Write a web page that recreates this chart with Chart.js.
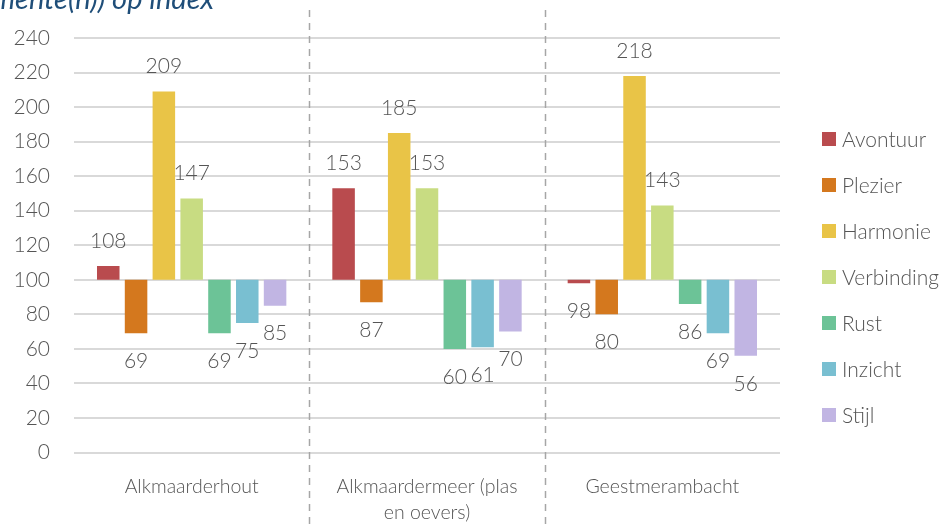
<!DOCTYPE html>
<html>
<head>
<meta charset="utf-8">
<script src="https://cdn.jsdelivr.net/npm/chart.js@4/dist/chart.umd.min.js"></script>
<style>
  html, body { margin: 0; padding: 0; background: #fff; }
  #wrap { width: 950px; height: 526px; position: relative; }
</style>
</head>
<body>
<div id="wrap"><canvas id="myChart"></canvas></div>
<script>
const categories = ['Alkmaarderhout', ['Alkmaardermeer (plas', 'en oevers)'], 'Geestmerambacht'];
const seriesNames = ['Avontuur', 'Plezier', 'Harmonie', 'Verbinding', 'Rust', 'Inzicht', 'Stijl'];
const seriesColors = ['#b94b4e', '#d4781e', '#e9c447', '#c8dc82', '#6cc397', '#79bfd1', '#c1b5e3'];

const avontuur = [108, 153, 98];
const plezier = [69, 87, 80];
const harmonie = [209, 185, 218];
const verbinding = [147, 153, 143];
const rust = [69, 60, 86];
const inzicht = [75, 61, 69];
const stijl = [85, 70, 56];

const baseline = 100;
const yTicks = [0, 20, 40, 60, 80, 100, 120, 140, 160, 180, 200, 220, 240];

const FONT = 'Lato, "Source Sans Pro", sans-serif';
const TEXT = '#555555';

const seriesValues = [avontuur, plezier, harmonie, verbinding, rust, inzicht, stijl];

const datasets = seriesValues.map((vals, i) => ({
  label: seriesNames[i],
  data: vals.map(v => [baseline, v]),
  raw: vals,
  backgroundColor: seriesColors[i],
  borderWidth: 0,
  barPercentage: 0.81,
  categoryPercentage: 0.827,
}));

// dashed separators between the regions
const separators = {
  id: 'separators',
  afterDraw(chart) {
    const { ctx, scales: { x } } = chart;
    ctx.save();
    ctx.strokeStyle = '#a6a6a6';
    ctx.lineWidth = 1.5;
    ctx.setLineDash([7, 6]);
    for (let i = 0; i < categories.length - 1; i++) {
      const px = (x.getPixelForValue(i) + x.getPixelForValue(i + 1)) / 2;
      ctx.beginPath();
      ctx.moveTo(Math.round(px) + 0.5, 10);
      ctx.lineTo(Math.round(px) + 0.5, chart.height);
      ctx.stroke();
    }
    ctx.restore();
  },
};

// value labels at the bar ends
const valueLabels = {
  id: 'valueLabels',
  afterDatasetsDraw(chart) {
    const { ctx, scales: { y } } = chart;
    ctx.save();
    ctx.font = '300 21px ' + FONT;
    ctx.fillStyle = TEXT;
    ctx.textAlign = 'center';
    ctx.textBaseline = 'middle';
    chart.data.datasets.forEach((ds, di) => {
      const meta = chart.getDatasetMeta(di);
      meta.data.forEach((bar, i) => {
        const v = ds.raw[i];
        const py = y.getPixelForValue(v);
        const ly = v >= baseline ? py - 25 : py + 28;
        ctx.fillText(String(v), bar.x, ly);
      });
    });
    ctx.restore();
  },
};

// legend on the right and the clipped title line at the top
const extras = {
  id: 'extras',
  afterDraw(chart) {
    const { ctx } = chart;
    ctx.save();
    ctx.font = 'italic 29px ' + FONT;
    ctx.fillStyle = '#1f4e79';
    ctx.textAlign = 'right';
    ctx.textBaseline = 'alphabetic';
    ctx.fillText('Belevingselemente(n)) op index', 214, 9);

    ctx.font = '300 21px ' + FONT;
    ctx.textAlign = 'left';
    ctx.textBaseline = 'middle';
    chart.data.datasets.forEach((ds, i) => {
      const cy = 139 + i * 46;
      ctx.fillStyle = ds.backgroundColor;
      ctx.fillRect(822, cy - 7, 14, 14);
      ctx.fillStyle = TEXT;
      ctx.fillText(ds.label, 842, cy + 1);
    });
    ctx.restore();
  },
};

new Chart(document.getElementById('myChart'), {
  type: 'bar',
  data: { labels: categories, datasets },
  options: {
    responsive: true,
    maintainAspectRatio: false,
    animation: false,
    layout: { padding: { top: 38, right: 170, left: 0, bottom: 0 } },
    plugins: {
      legend: { display: false },
      tooltip: { enabled: false },
    },
    scales: {
      x: {
        grid: { display: false, drawTicks: false },
        border: { display: false },
        ticks: {
          color: TEXT,
          font: { family: FONT, size: 19.5, weight: 300, lineHeight: 1.35 },
          padding: 21,
          maxRotation: 0,
          autoSkip: false,
        },
        afterFit(scale) { scale.height = 73.5; },
      },
      y: {
        min: 0,
        max: 240,
        afterBuildTicks(scale) { scale.ticks = yTicks.map(v => ({ value: v })); },
        grid: { color: '#d9d9d9', lineWidth: 2, drawTicks: false },
        border: { display: false },
        ticks: {
          color: TEXT,
          font: { family: FONT, size: 21, weight: 300 },
          padding: 24,
        },
        afterFit(scale) { scale.width = 74; },
      },
    },
  },
  plugins: [separators, valueLabels, extras],
});
</script>
</body>
</html>
